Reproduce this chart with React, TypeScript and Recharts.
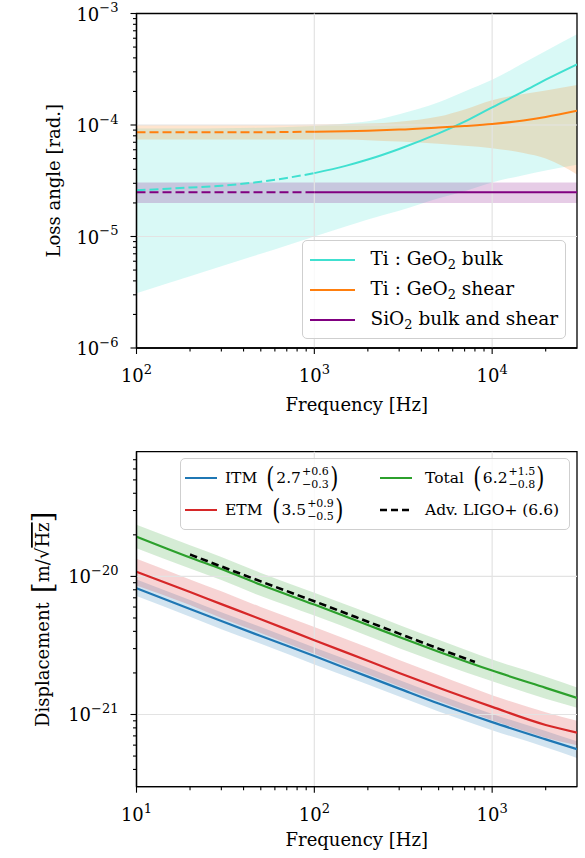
import {
  ComposedChart,
  Line,
  Area,
  XAxis,
  YAxis,
  Legend,
  ReferenceLine,
  ReferenceArea,
} from "recharts"

const SERIF = "DejaVu Serif"

// colours (matplotlib defaults + named)
const BULK_COLOR = "#40e0d0"
const SHEAR_COLOR = "#ff7f0e"
const SIO2_COLOR = "#800080"
const ITM_COLOR = "#1f77b4"
const ETM_COLOR = "#d62728"
const TOT_COLOR = "#2ca02c"

// ---------- top panel: loss angles
const TOP_X_DOMAIN = [100, 30000]
const TOP_Y_DOMAIN = [1e-6, 1e-3]
const SOLID_FROM = 1000 // dashed below this frequency

const TOP_FREQ = [100, 150, 200, 300, 500, 700, 1000, 1500, 2000, 3000, 5000, 7000, 10000, 15000, 20000, 30000]
const BULK_MID = [2.6e-5, 2.68e-5, 2.75e-5, 2.85e-5, 3.1e-5, 3.35e-5, 3.7e-5, 4.3e-5, 4.9e-5, 6.1e-5, 8.4e-5, 1.07e-4, 1.44e-4, 2.0e-4, 2.55e-4, 3.5e-4]
const BULK_LOW = [3.1e-6, 3.8e-6, 4.4e-6, 5.4e-6, 7.0e-6, 8.3e-6, 1.0e-5, 1.23e-5, 1.42e-5, 1.7e-5, 2.2e-5, 2.55e-5, 3.05e-5, 3.55e-5, 3.9e-5, 4.4e-5]
const BULK_HIGH = [9.3e-5, 9.3e-5, 9.3e-5, 9.35e-5, 9.45e-5, 9.6e-5, 9.8e-5, 1.03e-4, 1.08e-4, 1.25e-4, 1.6e-4, 2.0e-4, 2.54e-4, 3.59e-4, 4.6e-4, 6.5e-4]
const SHEAR_MID = [8.6e-5, 8.6e-5, 8.6e-5, 8.6e-5, 8.6e-5, 8.65e-5, 8.7e-5, 8.8e-5, 8.9e-5, 9.1e-5, 9.5e-5, 9.8e-5, 1.02e-4, 1.1e-4, 1.18e-4, 1.34e-4]
const SHEAR_LOW = [7.4e-5, 7.4e-5, 7.4e-5, 7.4e-5, 7.4e-5, 7.4e-5, 7.4e-5, 7.4e-5, 7.3e-5, 7.1e-5, 6.8e-5, 6.5e-5, 6.2e-5, 5.6e-5, 5.0e-5, 3.6e-5]
const SHEAR_HIGH = [1.0e-4, 1.0e-4, 1.0e-4, 1.0e-4, 1.0e-4, 1.0e-4, 1.01e-4, 1.02e-4, 1.03e-4, 1.07e-4, 1.19e-4, 1.38e-4, 1.67e-4, 1.9e-4, 2.04e-4, 2.28e-4]

const SIO2_FREQ = [100, 1000, 30000]
const SIO2_MID = [2.5e-5, 2.5e-5, 2.5e-5]
const SIO2_LOW = [2.0e-5, 2.0e-5, 2.0e-5]
const SIO2_HIGH = [3.05e-5, 3.05e-5, 3.05e-5]

const TOP_X_TICKS = [100, 200, 300, 400, 500, 600, 700, 800, 900, 1000, 2000, 3000, 4000, 5000, 6000, 7000, 8000, 9000, 10000, 20000]
const TOP_Y_TICKS = [
  1e-6, 2e-6, 3e-6, 4e-6, 5e-6, 6e-6, 7e-6, 8e-6, 9e-6,
  1e-5, 2e-5, 3e-5, 4e-5, 5e-5, 6e-5, 7e-5, 8e-5, 9e-5,
  1e-4, 2e-4, 3e-4, 4e-4, 5e-4, 6e-4, 7e-4, 8e-4, 9e-4, 1e-3,
]
const TOP_GRID_X = [1000, 10000]
const TOP_GRID_Y = [1e-5, 1e-4]

// ---------- bottom panel: displacement noise
const BOT_X_DOMAIN = [10, 3000]
const BOT_Y_DOMAIN = [3e-22, 8e-20]

const BOT_FREQ = [10, 20, 30, 50, 100, 200, 300, 500, 1000, 2000, 3000]
const ITM_MID = [8.2e-21, 5.8e-21, 4.75e-21, 3.7e-21, 2.65e-21, 1.88e-21, 1.54e-21, 1.2e-21, 8.8e-22, 6.6e-22, 5.6e-22]
const ITM_LOW = [7.2e-21, 5.1e-21, 4.15e-21, 3.25e-21, 2.3e-21, 1.65e-21, 1.35e-21, 1.05e-21, 7.7e-22, 5.8e-22, 4.85e-22]
const ITM_HIGH = [9.5e-21, 6.75e-21, 5.5e-21, 4.3e-21, 3.05e-21, 2.18e-21, 1.78e-21, 1.39e-21, 1.01e-21, 7.6e-22, 6.4e-22]
const ETM_MID = [1.08e-20, 7.7e-21, 6.3e-21, 4.9e-21, 3.45e-21, 2.45e-21, 2.0e-21, 1.56e-21, 1.135e-21, 8.4e-22, 7.4e-22]
const ETM_LOW = [8.6e-21, 6.2e-21, 5.0e-21, 3.9e-21, 2.75e-21, 1.96e-21, 1.6e-21, 1.25e-21, 9.1e-22, 6.8e-22, 6.0e-22]
const ETM_HIGH = [1.34e-20, 9.5e-21, 7.8e-21, 6.0e-21, 4.3e-21, 3.05e-21, 2.48e-21, 1.93e-21, 1.38e-21, 1.04e-21, 9.0e-22]
const TOT_MID = [1.94e-20, 1.37e-20, 1.13e-20, 8.7e-21, 6.25e-21, 4.45e-21, 3.64e-21, 2.85e-21, 2.08e-21, 1.56e-21, 1.32e-21]
const TOT_LOW = [1.6e-20, 1.14e-20, 9.4e-21, 7.2e-21, 5.2e-21, 3.7e-21, 3.02e-21, 2.37e-21, 1.74e-21, 1.3e-21, 1.12e-21]
const TOT_HIGH = [2.37e-20, 1.68e-20, 1.38e-20, 1.06e-20, 7.6e-21, 5.45e-21, 4.45e-21, 3.48e-21, 2.5e-21, 1.88e-21, 1.57e-21]

const LIGO_FREQ = [20, 30, 50, 100, 200, 300, 500, 800]
const LIGO_ASD = [1.44e-20, 1.18e-20, 9.2e-21, 6.6e-21, 4.7e-21, 3.85e-21, 3.0e-21, 2.4e-21]

const BOT_X_TICKS = [10, 20, 30, 40, 50, 60, 70, 80, 90, 100, 200, 300, 400, 500, 600, 700, 800, 900, 1000, 2000]
const BOT_Y_TICKS = [
  4e-22, 5e-22, 6e-22, 7e-22, 8e-22, 9e-22,
  1e-21, 2e-21, 3e-21, 4e-21, 5e-21, 6e-21, 7e-21, 8e-21, 9e-21,
  1e-20, 2e-20, 3e-20, 4e-20, 5e-20, 6e-20, 7e-20,
]
const BOT_GRID_X = [100, 1000]
const BOT_GRID_Y = [1e-21, 1e-20]

const TOP_ROWS = TOP_FREQ.map((f, i) => ({
  f,
  bulk: BULK_MID[i],
  bulkBand: [BULK_LOW[i], BULK_HIGH[i]],
  shear: SHEAR_MID[i],
  shearBand: [SHEAR_LOW[i], SHEAR_HIGH[i]],
}))
const SIO2_ROWS = SIO2_FREQ.map((f, i) => ({ f, mid: SIO2_MID[i], band: [SIO2_LOW[i], SIO2_HIGH[i]] }))
const BOT_ROWS = BOT_FREQ.map((f, i) => ({
  f,
  itm: ITM_MID[i],
  itmBand: [ITM_LOW[i], ITM_HIGH[i]],
  etm: ETM_MID[i],
  etmBand: [ETM_LOW[i], ETM_HIGH[i]],
  tot: TOT_MID[i],
  totBand: [TOT_LOW[i], TOT_HIGH[i]],
}))
const LIGO_ROWS = LIGO_FREQ.map((f, i) => ({ f, asd: LIGO_ASD[i] }))

function isDecade(v: number) {
  const e = Math.log10(v)
  return Math.abs(e - Math.round(e)) < 1e-6
}

function expText(v: number) {
  const e = Math.round(Math.log10(v))
  return e < 0 ? `\u2212${-e}` : `${e}`
}

// eslint-disable-next-line @typescript-eslint/no-explicit-any
function XTick(props: any) {
  const { x, y, payload } = props
  const major = isDecade(payload.value)
  return (
    <g>
      <line x1={x} x2={x} y1={y} y2={y + (major ? 6 : 3.5)} stroke="#000" strokeWidth={1.1} />
      {major && (
        <text x={x} y={y + 34} textAnchor="middle" fontFamily={SERIF} fontSize={18} fill="#000">
          10<tspan dy={-8} fontSize={13}>{expText(payload.value)}</tspan>
        </text>
      )}
    </g>
  )
}

// eslint-disable-next-line @typescript-eslint/no-explicit-any
function YTick(props: any) {
  const { x, y, payload } = props
  const major = isDecade(payload.value)
  return (
    <g>
      <line x1={x} x2={x - (major ? 6 : 3.5)} y1={y} y2={y} stroke="#000" strokeWidth={1.1} />
      {major && (
        <text x={x - 18} y={y + 7} textAnchor="end" fontFamily={SERIF} fontSize={18} fill="#000">
          10<tspan dy={-8.5} fontSize={13}>{expText(payload.value)}</tspan>
        </text>
      )}
    </g>
  )
}

// eslint-disable-next-line @typescript-eslint/no-explicit-any
function FreqLabel(props: any) {
  const vb = props.viewBox
  return (
    <text x={vb.x + vb.width / 2} y={vb.y + props.dy} textAnchor="middle" fontFamily={SERIF} fontSize={18} fill="#000">
      Frequency [Hz]
    </text>
  )
}

// eslint-disable-next-line @typescript-eslint/no-explicit-any
function LossLabel(props: any) {
  const vb = props.viewBox
  const cy = vb.y + vb.height / 2
  return (
    <text x={60} y={cy} transform={`rotate(-90, 60, ${cy})`} textAnchor="middle" fontFamily={SERIF} fontSize={18} fill="#000">
      Loss angle [rad.]
    </text>
  )
}

// eslint-disable-next-line @typescript-eslint/no-explicit-any
function DispLabel(props: any) {
  const vb = props.viewBox
  const cy = vb.y + vb.height / 2
  return (
    <text x={49} y={cy} transform={`rotate(-90, 49, ${cy})`} textAnchor="middle" fontFamily={SERIF} fontSize={18} fill="#000">
      <tspan>Displacement{"\u2002"}</tspan>
      <tspan fontSize={28} dy={3}>[</tspan>
      <tspan dy={-3}>m/{"\u221A"}</tspan>
      <tspan textDecoration="overline">Hz</tspan>
      <tspan fontSize={28} dy={3}>]</tspan>
    </text>
  )
}

function Swatch({ color, dash, width, stroke }: { color: string; dash?: string; width: number; stroke: number }) {
  return (
    <svg width={width} height={8} style={{ display: "block", flex: "none" }}>
      <line x1={0} x2={width} y1={4} y2={4} stroke={color} strokeWidth={stroke} strokeDasharray={dash} />
    </svg>
  )
}

const Sub2 = () => <span style={{ fontSize: 13, position: "relative", top: 4 }}>2</span>

const TOP_LEGEND = [
  { color: BULK_COLOR, label: <>Ti : GeO<Sub2 /> bulk</> },
  { color: SHEAR_COLOR, label: <>Ti : GeO<Sub2 /> shear</> },
  { color: SIO2_COLOR, label: <>SiO<Sub2 /> bulk and shear</> },
]

function TopLegend() {
  return (
    <div style={{ position: "relative", width: 264, height: 99, boxSizing: "border-box", border: "1.4px solid #cfcfcf", borderRadius: 5, background: "rgba(255,255,255,0.8)", fontFamily: SERIF, fontSize: 18.5, color: "#000" }}>
      {TOP_LEGEND.map((e, i) => (
        <div key={i} style={{ position: "absolute", left: 7, top: 4 + i * 30, height: 30, display: "flex", alignItems: "center", whiteSpace: "nowrap" }}>
          <Swatch color={e.color} width={45} stroke={2} />
          <span style={{ marginLeft: 16, lineHeight: "30px" }}>{e.label}</span>
        </div>
      ))}
    </div>
  )
}

const BOT_LEGEND = [
  { color: ITM_COLOR, name: "ITM", mid: "2.7", up: "+0.6", dn: "\u22120.3", col: 0, row: 0 },
  { color: ETM_COLOR, name: "ETM", mid: "3.5", up: "+0.9", dn: "\u22120.5", col: 0, row: 1 },
  { color: TOT_COLOR, name: "Total", mid: "6.2", up: "+1.5", dn: "\u22120.8", col: 1, row: 0 },
]

function Paren({ c }: { c: string }) {
  return <span style={{ fontSize: 28, lineHeight: "28px", transform: "scaleX(0.75)", display: "inline-block" }}>{c}</span>
}

function BottomLegend() {
  return (
    <div style={{ position: "relative", width: 390, height: 72, boxSizing: "border-box", border: "1.4px solid #cfcfcf", borderRadius: 5, background: "rgba(255,255,255,0.8)", fontFamily: SERIF, fontSize: 15.5, color: "#000" }}>
      {BOT_LEGEND.map((e, i) => (
        <div key={i} style={{ position: "absolute", left: e.col ? 199 : 4, top: 3 + e.row * 32, height: 32, display: "flex", alignItems: "center", whiteSpace: "nowrap" }}>
          <Swatch color={e.color} width={32} stroke={2} />
          <span style={{ marginLeft: e.col ? 13 : 8, display: "flex", alignItems: "center" }}>
            {e.name}
            <span style={{ width: 8 }} />
            <Paren c="(" />
            {e.mid}
            <span style={{ display: "inline-flex", flexDirection: "column", fontSize: 11, lineHeight: "13px", marginLeft: 1 }}>
              <span>{e.up}</span>
              <span>{e.dn}</span>
            </span>
            <Paren c=")" />
          </span>
        </div>
      ))}
      <div style={{ position: "absolute", left: 199, top: 35, height: 32, display: "flex", alignItems: "center", whiteSpace: "nowrap" }}>
        <Swatch color="#000" width={32} stroke={2.6} dash="7 4" />
        <span style={{ marginLeft: 13 }}>Adv. LIGO+ (6.6)</span>
      </div>
    </div>
  )
}

const axisLine = { stroke: "#000", strokeWidth: 1.3 }

function LossPanel() {
  return (
    <div style={{ position: "absolute", left: 0, top: 0 }}>
      <ComposedChart width={585} height={420} data={TOP_ROWS} margin={{ top: 13.5, right: 8, left: 0, bottom: 0 }}>
        <XAxis
          dataKey="f"
          type="number"
          scale="log"
          domain={TOP_X_DOMAIN}
          allowDataOverflow
          ticks={TOP_X_TICKS}
          interval={0}
          tick={XTick}
          tickLine={false}
          tickSize={0}
          tickMargin={0}
          axisLine={axisLine}
          height={72}
          label={<FreqLabel dy={63} />}
        />
        <YAxis
          type="number"
          scale="log"
          domain={TOP_Y_DOMAIN}
          allowDataOverflow
          ticks={TOP_Y_TICKS}
          interval={0}
          tick={YTick}
          tickLine={false}
          tickSize={0}
          tickMargin={0}
          axisLine={axisLine}
          width={136.5}
          label={<LossLabel />}
        />
        {TOP_GRID_X.map((v) => (
          <ReferenceLine key={`gx${v}`} x={v} stroke="#e3e3e3" strokeWidth={1.2} />
        ))}
        {TOP_GRID_Y.map((v) => (
          <ReferenceLine key={`gy${v}`} y={v} stroke="#e3e3e3" strokeWidth={1.2} />
        ))}
        <Area dataKey="bulkBand" type="monotone" fill={BULK_COLOR} fillOpacity={0.2} stroke="none" isAnimationActive={false} />
        <Area dataKey="shearBand" type="monotone" fill={SHEAR_COLOR} fillOpacity={0.2} stroke="none" isAnimationActive={false} />
        <Area data={SIO2_ROWS} dataKey="band" type="linear" fill={SIO2_COLOR} fillOpacity={0.2} stroke="none" isAnimationActive={false} />
        {/* dashed below 1 kHz, solid above */}
        <Line dataKey={(d: any) => (d.f <= SOLID_FROM ? d.bulk : null)} type="monotone" stroke={BULK_COLOR} strokeWidth={2} strokeDasharray="9 4" dot={false} activeDot={false} isAnimationActive={false} />
        <Line dataKey={(d: any) => (d.f >= SOLID_FROM ? d.bulk : null)} type="monotone" stroke={BULK_COLOR} strokeWidth={2} dot={false} activeDot={false} isAnimationActive={false} />
        <Line dataKey={(d: any) => (d.f <= SOLID_FROM ? d.shear : null)} type="monotone" stroke={SHEAR_COLOR} strokeWidth={2} strokeDasharray="9 4" dot={false} activeDot={false} isAnimationActive={false} />
        <Line dataKey={(d: any) => (d.f >= SOLID_FROM ? d.shear : null)} type="monotone" stroke={SHEAR_COLOR} strokeWidth={2} dot={false} activeDot={false} isAnimationActive={false} />
        <Line data={SIO2_ROWS} dataKey={(d: any) => (d.f <= SOLID_FROM ? d.mid : null)} type="linear" stroke={SIO2_COLOR} strokeWidth={2} strokeDasharray="9 4" dot={false} activeDot={false} isAnimationActive={false} />
        <Line data={SIO2_ROWS} dataKey={(d: any) => (d.f >= SOLID_FROM ? d.mid : null)} type="linear" stroke={SIO2_COLOR} strokeWidth={2} dot={false} activeDot={false} isAnimationActive={false} />
        <ReferenceArea x1={TOP_X_DOMAIN[0]} x2={TOP_X_DOMAIN[1]} y1={TOP_Y_DOMAIN[0]} y2={TOP_Y_DOMAIN[1]} fill="none" fillOpacity={0} stroke="#000" strokeWidth={1.3} />
        <Legend
          layout="vertical"
          align="center"
          verticalAlign="middle"
          wrapperStyle={{ left: 301.5, top: 239.5, width: 264, height: 99 }}
          content={() => <TopLegend />}
        />
      </ComposedChart>
    </div>
  )
}

function NoisePanel() {
  return (
    <div style={{ position: "absolute", left: 0, top: 420 }}>
      <ComposedChart width={585} height={438} data={BOT_ROWS} margin={{ top: 31.7, right: 8, left: 0, bottom: 0 }}>
        <XAxis
          dataKey="f"
          type="number"
          scale="log"
          domain={BOT_X_DOMAIN}
          allowDataOverflow
          ticks={BOT_X_TICKS}
          interval={0}
          tick={XTick}
          tickLine={false}
          tickSize={0}
          tickMargin={0}
          axisLine={axisLine}
          height={71.3}
          label={<FreqLabel dy={59} />}
        />
        <YAxis
          type="number"
          scale="log"
          domain={BOT_Y_DOMAIN}
          allowDataOverflow
          ticks={BOT_Y_TICKS}
          interval={0}
          tick={YTick}
          tickLine={false}
          tickSize={0}
          tickMargin={0}
          axisLine={axisLine}
          width={136.5}
          label={<DispLabel />}
        />
        {BOT_GRID_X.map((v) => (
          <ReferenceLine key={`gx${v}`} x={v} stroke="#e3e3e3" strokeWidth={1.2} />
        ))}
        {BOT_GRID_Y.map((v) => (
          <ReferenceLine key={`gy${v}`} y={v} stroke="#e3e3e3" strokeWidth={1.2} />
        ))}
        <Area dataKey="itmBand" type="monotone" fill={ITM_COLOR} fillOpacity={0.2} stroke="none" isAnimationActive={false} />
        <Area dataKey="etmBand" type="monotone" fill={ETM_COLOR} fillOpacity={0.2} stroke="none" isAnimationActive={false} />
        <Area dataKey="totBand" type="monotone" fill={TOT_COLOR} fillOpacity={0.2} stroke="none" isAnimationActive={false} />
        <Line dataKey="itm" type="monotone" stroke={ITM_COLOR} strokeWidth={2.2} dot={false} activeDot={false} isAnimationActive={false} />
        <Line dataKey="etm" type="monotone" stroke={ETM_COLOR} strokeWidth={2.2} dot={false} activeDot={false} isAnimationActive={false} />
        <Line dataKey="tot" type="monotone" stroke={TOT_COLOR} strokeWidth={2.2} dot={false} activeDot={false} isAnimationActive={false} />
        <Line data={LIGO_ROWS} dataKey="asd" type="monotone" stroke="#000" strokeWidth={2.6} strokeDasharray="7.5 4" dot={false} activeDot={false} isAnimationActive={false} />
        <ReferenceArea x1={BOT_X_DOMAIN[0]} x2={BOT_X_DOMAIN[1]} y1={BOT_Y_DOMAIN[0]} y2={BOT_Y_DOMAIN[1]} fill="none" fillOpacity={0} stroke="#000" strokeWidth={1.3} />
        <Legend
          layout="vertical"
          align="center"
          verticalAlign="middle"
          wrapperStyle={{ left: 180, top: 38.3, width: 390, height: 72 }}
          content={() => <BottomLegend />}
        />
      </ComposedChart>
    </div>
  )
}

export default function App() {
  return (
    <div style={{ position: "absolute", left: 0, top: 0, width: 585, height: 858, background: "#fff" }}>
      <LossPanel />
      <NoisePanel />
    </div>
  )
}
